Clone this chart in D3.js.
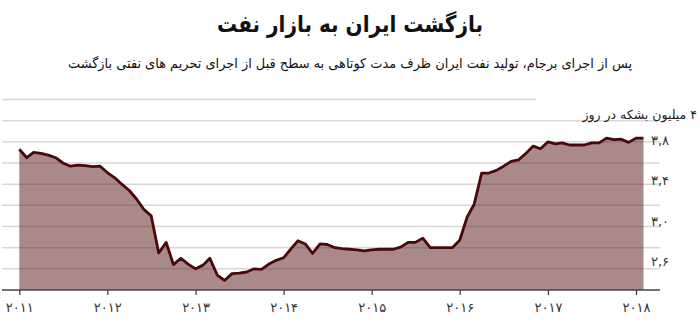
<!DOCTYPE html>
<html>
<head>
<meta charset="utf-8">
<script src="https://cdn.jsdelivr.net/npm/d3@7/dist/d3.min.js"></script>
<style>
  html, body { margin: 0; padding: 0; background: #fff; }
  svg { display: block; font-family: "DejaVu Sans", sans-serif; }
</style>
</head>
<body>
<svg id="chart" width="700" height="323"></svg>
<script>
// ---- data ----
const title = "بازگشت ایران به بازار نفت";
const subtitle = "پس از اجرای برجام، تولید نفت ایران ظرف مدت کوتاهی به سطح قبل از اجرای تحریم های نفتی بازگشت";
const unitLabel = "۴ میلیون بشکه در روز";
const startMonth = "2011-01"; // monthly series, one value per month
const production = [
  3.73, 3.65, 3.70, 3.69, 3.675, 3.65, 3.60, 3.57, 3.58, 3.575, 3.565, 3.57,
  3.51, 3.46, 3.40, 3.34, 3.26, 3.16, 3.10, 2.75, 2.85, 2.64, 2.70, 2.645,
  2.60, 2.635, 2.70, 2.54, 2.49, 2.555, 2.56, 2.57, 2.60, 2.595, 2.645, 2.68,
  2.705, 2.79, 2.865, 2.835, 2.745, 2.835, 2.83, 2.80, 2.79, 2.785, 2.78, 2.77,
  2.78, 2.785, 2.785, 2.785, 2.805, 2.85, 2.85, 2.89, 2.80, 2.80, 2.80, 2.80,
  2.87, 3.09, 3.21, 3.505, 3.505, 3.53, 3.57, 3.615, 3.63, 3.69, 3.76, 3.735,
  3.80, 3.78, 3.79, 3.77, 3.77, 3.77, 3.79, 3.79, 3.835, 3.82, 3.825, 3.795,
  3.835, 3.835
];
const yearTicks = [2011, 2012, 2013, 2014, 2015, 2016, 2017, 2018];
const yearLabels = ["۲۰۱۱", "۲۰۱۲", "۲۰۱۳", "۲۰۱۴", "۲۰۱۵", "۲۰۱۶", "۲۰۱۷", "۲۰۱۸"];
const gridValues = [4.2, 4.0, 3.8, 3.6, 3.4, 3.2, 3.0, 2.8, 2.6];
const yTickValues = [3.8, 3.4, 3.0, 2.6];
const yTickLabels = ["۳,۸", "۳,۴", "۳,۰", "۲,۶"];

// ---- build ----
const svg = d3.select("#chart");
const parseMonth = d3.timeParse("%Y-%m");
const t0 = parseMonth(startMonth);
const data = production.map((v, i) => ({ date: d3.timeMonth.offset(t0, i), value: v }));

const x = d3.scaleTime()
  .domain([new Date(2011, 0, 1), new Date(2018, 0, 1)])
  .range([19.3, 636]);
const y = d3.scaleLinear().domain([2.4, 4.2]).range([290, 99.5]);
const yLab = d3.scaleLinear().domain([2.6, 3.8]).range([266, 145]);
const gridX0 = 2, gridX1 = 660;

// title
svg.append("text")
  .attr("x", 350).attr("y", 32)
  .attr("text-anchor", "middle")
  .attr("direction", "rtl")
  .attr("font-size", 23).attr("font-weight", "bold").attr("fill", "#111")
  .attr("textLength", 266).attr("lengthAdjust", "spacingAndGlyphs")
  .text(title);
svg.append("text")
  .attr("x", 350).attr("y", 68)
  .attr("text-anchor", "middle")
  .attr("direction", "rtl")
  .attr("font-size", 13.5).attr("fill", "#111")
  .attr("textLength", 564).attr("lengthAdjust", "spacingAndGlyphs")
  .text(subtitle);

// gridlines
svg.append("g").selectAll("line").data(gridValues).join("line")
  .attr("x1", gridX0).attr("x2", gridX1)
  .attr("y1", d => y(d)).attr("y2", d => y(d))
  .attr("stroke", "#d8d8d8").attr("stroke-width", 1.5);

// white patch behind the unit label (hides top gridline at right)
svg.append("rect")
  .attr("x", 536).attr("y", y(4.2) - 4)
  .attr("width", 170).attr("height", 14)
  .attr("fill", "#fff");

svg.append("text")
  .attr("x", 697).attr("y", y(4.0) - 2)
  .attr("direction", "rtl")
  .attr("text-anchor", "start")
  .attr("font-size", 12.5).attr("fill", "#222")
  .text(unitLabel);

// area + line
const area = d3.area()
  .x(d => x(d.date)).y0(y(2.4)).y1(d => y(d.value));
const line = d3.line()
  .x(d => x(d.date)).y(d => y(d.value));

svg.append("path").datum(data)
  .attr("d", area)
  .attr("fill", "rgb(85,20,20)").attr("fill-opacity", 0.5);
svg.append("path").datum(data)
  .attr("d", line)
  .attr("fill", "none")
  .attr("stroke", "#4a080a").attr("stroke-width", 2.8)
  .attr("stroke-linejoin", "round");

// y tick labels
svg.append("g").selectAll("text").data(yTickValues).join("text")
  .attr("x", 651).attr("y", d => yLab(d))
  .attr("font-size", 13).attr("fill", "#333")
  .text((d, i) => yTickLabels[i]);

// x axis
const xAxis = d3.axisBottom(x)
  .tickValues(yearTicks.map(yr => new Date(yr, 0, 1)))
  .tickFormat((d, i) => yearLabels[i])
  .tickSize(5).tickSizeOuter(0);
const gx = svg.append("g").attr("transform", `translate(0,${y(2.4)})`).call(xAxis);
gx.select(".domain").remove();
gx.append("line")
  .attr("x1", gridX0).attr("x2", gridX1).attr("y1", 0).attr("y2", 0)
  .attr("stroke", "#444").attr("stroke-width", 1.5);
gx.selectAll(".tick line").attr("stroke", "#333").attr("stroke-width", 1.2);
gx.selectAll(".tick text")
  .attr("font-size", 13).attr("fill", "#333")
  .attr("font-family", "DejaVu Sans, sans-serif")
  .attr("dy", "1.05em");
</script>
</body>
</html>
